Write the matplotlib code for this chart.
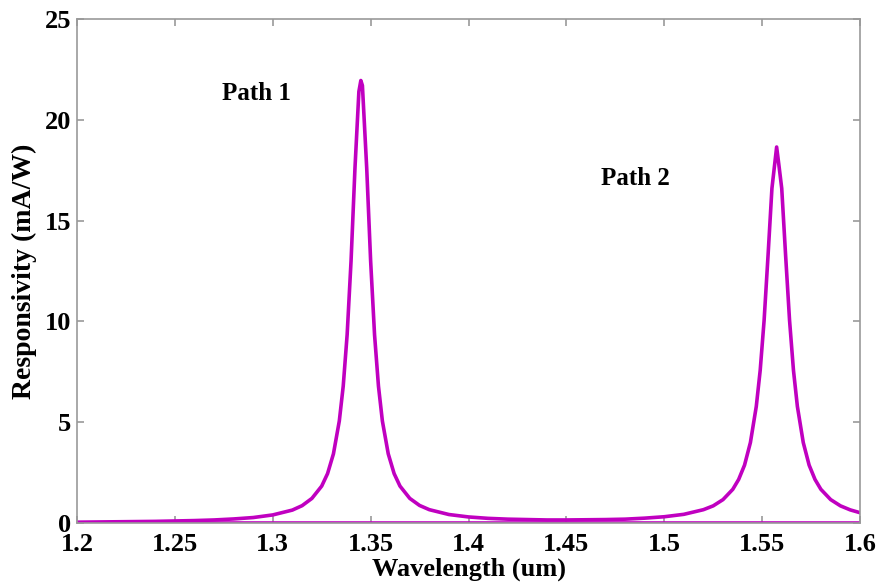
import numpy as np
import matplotlib.pyplot as plt

# wavelength (um) and responsivity (mA/W)
wavelength = [1.200, 1.220, 1.240, 1.260, 1.270, 1.280, 1.290, 1.300, 1.310, 1.315,
              1.320, 1.325, 1.328, 1.331, 1.334, 1.336, 1.338, 1.340, 1.342, 1.344,
              1.3450, 1.3458, 1.348, 1.350, 1.352, 1.354, 1.356, 1.359, 1.362, 1.365,
              1.370, 1.375, 1.380, 1.390, 1.400, 1.410, 1.420, 1.430, 1.440, 1.450,
              1.460, 1.470, 1.480, 1.490, 1.500, 1.510, 1.520, 1.525, 1.530, 1.535,
              1.538, 1.541, 1.544, 1.547, 1.549, 1.551, 1.553, 1.555, 1.5574, 1.5585,
              1.560, 1.562, 1.564, 1.566, 1.568, 1.571, 1.574, 1.577, 1.580, 1.585,
              1.590, 1.595, 1.600]
responsivity = [0.04, 0.06, 0.08, 0.12, 0.15, 0.20, 0.27, 0.40, 0.64, 0.86,
                1.22, 1.83, 2.45, 3.43, 5.06, 6.79, 9.34, 13.0, 17.6, 21.4,
                21.95, 21.7, 17.6, 13.0, 9.34, 6.79, 5.06, 3.43, 2.45, 1.83,
                1.22, 0.87, 0.66, 0.42, 0.30, 0.23, 0.19, 0.17, 0.15, 0.15,
                0.16, 0.17, 0.19, 0.24, 0.31, 0.43, 0.66, 0.85, 1.16, 1.67,
                2.16, 2.87, 3.99, 5.78, 7.57, 10.05, 13.25, 16.6, 18.65, 17.8,
                16.6, 13.25, 10.05, 7.57, 5.78, 3.99, 2.87, 2.16, 1.67, 1.16,
                0.85, 0.65, 0.51]
baseline_x = [1.2, 1.6]
baseline_y = [0.0, 0.0]

x_ticks = [1.2, 1.25, 1.3, 1.35, 1.4, 1.45, 1.5, 1.55, 1.6]
x_tick_labels = ['1.2', '1.25', '1.3', '1.35', '1.4', '1.45', '1.5', '1.55', '1.6']
y_ticks = [0, 5, 10, 15, 20, 25]

plt.rcParams['font.family'] = ['Liberation Serif', 'DejaVu Serif']
plt.rcParams['font.weight'] = 'bold'

fig = plt.figure(figsize=(8.88, 5.85), dpi=100)
ax = fig.add_axes([0.0867, 0.106, 0.8818, 0.8615])

ax.plot(wavelength, responsivity, color='#c000c0', linewidth=2.6)
ax.plot(baseline_x, baseline_y, color='#c000c0', linewidth=2.6)

ax.set_xlim(1.2, 1.6)
ax.set_ylim(0, 25)
ax.set_xticks(x_ticks)
ax.set_xticklabels(x_tick_labels)
ax.set_yticks(y_ticks)

for s in ax.spines.values():
    s.set_color('#999999')
    s.set_linewidth(1.2)
ax.tick_params(direction='in', length=5, color='#999999', width=1.2,
               top=True, right=True, labelsize=19)
ax.tick_params(axis='x', pad=7)
ax.tick_params(axis='y', pad=4)
for lbl in ax.get_xticklabels() + ax.get_yticklabels():
    lbl.set_fontweight('bold')

ax.set_xlabel('Wavelength (um)', fontsize=19, fontweight='bold', labelpad=1)
ax.set_ylabel('Responsivity (mA/W)', fontsize=20, fontweight='bold', labelpad=6)

ax.text(1.2915, 21.3, 'Path 1', fontsize=18, fontweight='bold', ha='center', va='center')
ax.text(1.4855, 17.1, 'Path 2', fontsize=18, fontweight='bold', ha='center', va='center')

fig.savefig('out.png', dpi=100)
